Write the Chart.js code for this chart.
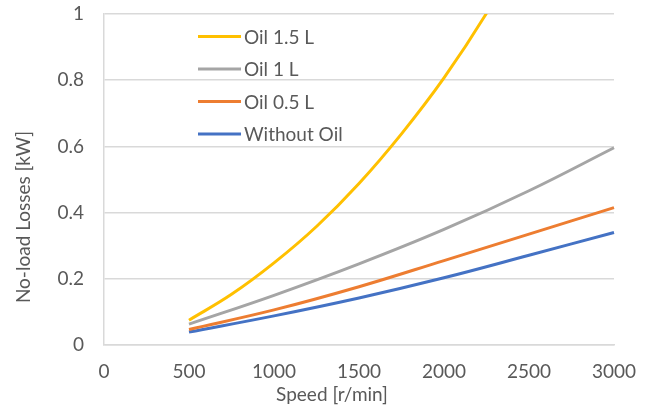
<!DOCTYPE html>
<html>
<head>
<meta charset="utf-8">
<script src="https://cdn.jsdelivr.net/npm/chart.js@4/dist/chart.umd.min.js"></script>
<style>
  html, body { margin: 0; padding: 0; background: #ffffff; }
  #wrap { width: 660px; height: 409px; }
</style>
</head>
<body>
<div id="wrap"><canvas id="c" width="660" height="409"></canvas></div>
<script>
// Speed axis samples [r/min]
const speedFine = [500, 750, 1000, 1250, 1500, 1750, 2000, 2250, 2500];
const speedCoarse = [500, 1000, 1500, 2000, 2500, 3000];

// No-load losses [kW]
const lossOil15 = [0.075, 0.153, 0.248, 0.358, 0.488, 0.638, 0.807, 1.002, 1.227];
const lossOil10 = [0.063, 0.15, 0.245, 0.349, 0.466, 0.596];
const lossOil05 = [0.047, 0.106, 0.176, 0.255, 0.335, 0.415];
const lossNoOil = [0.039, 0.088, 0.142, 0.203, 0.271, 0.340];

const seriesNames = ['Oil 1.5 L', 'Oil 1 L', 'Oil 0.5 L', 'Without Oil'];
const seriesColors = ['#FFC000', '#A5A5A5', '#ED7D31', '#4472C4'];

const xTitle = 'Speed [r/min]';
const yTitle = 'No-load Losses [kW]';

const FONT = 'Lato, "Open Sans", sans-serif';
const TEXT = '#595959';
const FS = 19;

const pairs = (xs, ys) => xs.map((x, i) => ({ x: x, y: ys[i] }));

const seriesData = [
  pairs(speedFine, lossOil15),
  pairs(speedCoarse, lossOil10),
  pairs(speedCoarse, lossOil05),
  pairs(speedCoarse, lossNoOil)
];

// Legend drawn inside the plot area, plus axis titles
const overlay = {
  id: 'overlay',
  afterDraw(chart) {
    const ctx = chart.ctx;
    ctx.save();
    ctx.font = FS + 'px ' + FONT;
    ctx.fillStyle = TEXT;
    ctx.textBaseline = 'middle';
    ctx.textAlign = 'left';
    const rows = [36.5, 69, 101.5, 134];
    chart.data.datasets.forEach((ds, i) => {
      ctx.strokeStyle = ds.borderColor;
      ctx.lineWidth = 3;
      ctx.beginPath();
      ctx.moveTo(198, rows[i]);
      ctx.lineTo(241, rows[i]);
      ctx.stroke();
      ctx.fillText(ds.label, 244, rows[i] + 1);
    });
    ctx.textAlign = 'center';
    ctx.fillText(xTitle, 332, 395);
    ctx.translate(24, 217);
    ctx.rotate(-Math.PI / 2);
    ctx.fillText(yTitle, 0, 0);
    ctx.restore();
  }
};

new Chart(document.getElementById('c'), {
  type: 'line',
  data: {
    datasets: seriesNames.map((name, i) => ({
      label: name,
      data: seriesData[i],
      borderColor: seriesColors[i],
      backgroundColor: seriesColors[i],
      borderWidth: 3,
      pointRadius: 0,
      fill: false,
      tension: 0.4,
      clip: { left: 5, right: 5, top: 0, bottom: 5 }
    }))
  },
  options: {
    responsive: false,
    animation: false,
    devicePixelRatio: 1,
    elements: { line: { capBezierPoints: false } },
    layout: { padding: { top: 14, right: 46, left: 0, bottom: 0 } },
    plugins: { legend: { display: false }, tooltip: { enabled: false } },
    scales: {
      x: {
        type: 'linear',
        min: 0,
        max: 3000,
        ticks: {
          stepSize: 500,
          color: TEXT,
          font: { family: FONT, size: FS },
          padding: 15,
          maxRotation: 0,
          callback: v => String(v)
        },
        grid: { display: false, drawTicks: false },
        border: { display: true, color: '#D9D9D9', width: 1.5 },
        afterFit(s) { s.height = 64; s.paddingLeft = 0; s.paddingRight = 0; }
      },
      y: {
        min: 0,
        max: 1,
        ticks: {
          stepSize: 0.2,
          color: TEXT,
          font: { family: FONT, size: FS },
          padding: 20,
          callback: v => String(+v.toFixed(1))
        },
        grid: { color: '#D9D9D9', lineWidth: 1.5, drawTicks: false },
        border: { display: true, color: '#D9D9D9', width: 1.5 },
        afterFit(s) { s.width = 104; s.paddingTop = 0; s.paddingBottom = 0; }
      }
    }
  },
  plugins: [overlay]
});
</script>
</body>
</html>
